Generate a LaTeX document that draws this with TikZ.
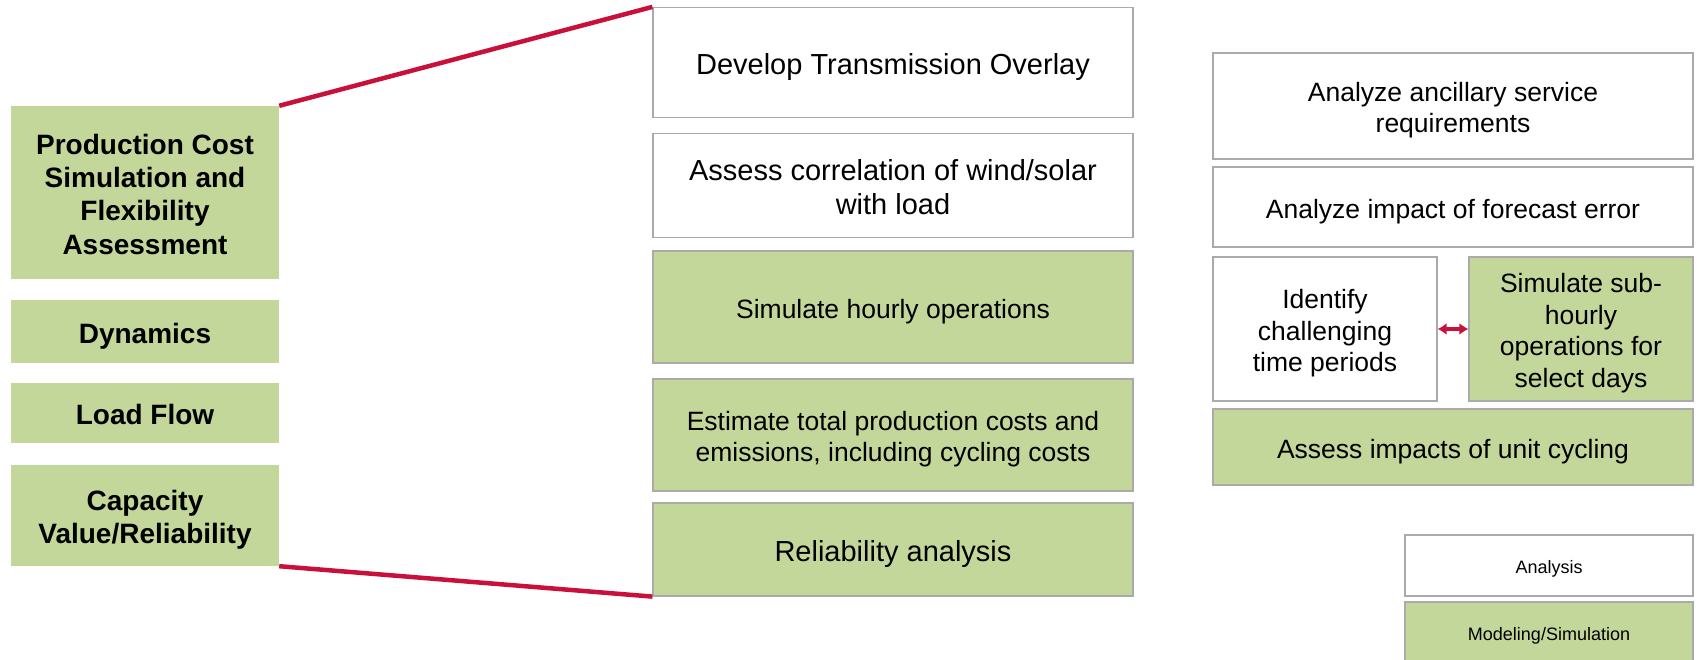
\documentclass[tikz,border=0pt]{standalone}
\usepackage{fontspec}
\setmainfont{Liberation Sans}
\usetikzlibrary{arrows.meta}
\definecolor{modgreen}{RGB}{196,215,155}
\definecolor{boxgray}{RGB}{170,170,170}
\definecolor{linkred}{RGB}{200,16,58}
% struts so that the capitals sit in the middle of each box
\newcommand{\topstrut}{\rule{0pt}{\dimexpr0.94em+3pt\relax}}
\newcommand{\botstrut}{\rule[-0.22em]{0pt}{0.22em}}
\newcommand{\bx}[1]{\topstrut#1\botstrut}
\tikzset{ana node/.style={rectangle,draw=boxgray,line width=1.2pt,fill=white,inner sep=0pt,align=center}}
\tikzset{mod node/.style={ana node,fill=modgreen}}
\tikzset{topic node/.style={rectangle,fill=modgreen,inner sep=0pt,align=center,minimum width=268pt,
font=\fontsize{28}{33.3}\selectfont\bfseries}}
\tikzset{link/.style={linkred,line width=4.5pt}}
\newcommand{\bigtxt}{\fontsize{29}{34}\selectfont}
\newcommand{\midtxt}{\fontsize{26.5}{31.7}\selectfont}

\begin{document}
\begin{tikzpicture}[x=1pt,y=-1pt]
\useasboundingbox (0,0) rectangle (1697,660);
\fill[white] (0,0) rectangle (1697,660);

% study types
\node[topic node,minimum height=173pt] (pcs) at (145,192.5) {\bx{Production Cost\\Simulation and\\Flexibility\\Assessment}};
\node[topic node,minimum height=63pt] (dyn) at (145,331.5) {\bx{Dynamics}};
\node[topic node,minimum height=60pt] (lf) at (145,413) {\bx{Load Flow}};
\node[topic node,minimum height=101pt] (cap) at (145,515.5) {\bx{Capacity\\Value/Reliability}};

% production cost steps
\node[ana node,minimum width=480pt,minimum height=110pt,font=\bigtxt] (dto) at (893,62.5) {\bx{Develop Transmission Overlay}};
\node[ana node,minimum width=480pt,minimum height=104pt,font=\bigtxt] (corr) at (893,185.5) {\bx{Assess correlation of wind/solar\\with load}};
\node[mod node,minimum width=480pt,minimum height=112pt,font=\midtxt] (hourly) at (893,307) {\bx{Simulate hourly operations}};
\node[mod node,minimum width=480pt,minimum height=112pt,font=\midtxt] (cost) at (893,435) {\bx{Estimate total production costs and\\emissions, including cycling costs}};
\node[mod node,minimum width=480pt,minimum height=93pt,font=\bigtxt] (rel) at (893,549.5) {\bx{Reliability analysis}};

% flexibility steps
\node[ana node,minimum width=480pt,minimum height=106pt,font=\midtxt] (anc) at (1453,106) {\bx{Analyze ancillary service\\requirements}};
\node[ana node,minimum width=480pt,minimum height=80pt,font=\midtxt] (fc) at (1453,207) {\bx{Analyze impact of forecast error}};
\node[ana node,minimum width=224pt,minimum height=144pt,font=\midtxt] (ident) at (1325,329) {\bx{Identify\\challenging\\time periods}};
\node[mod node,minimum width=224pt,minimum height=144pt,font=\midtxt] (subh) at (1581,329) {\bx{Simulate sub-\\hourly\\operations for\\select days}};
\node[mod node,minimum width=480pt,minimum height=76pt,font=\midtxt] (cyc) at (1453,447) {\bx{Assess impacts of unit cycling}};

% legend
\node[ana node,minimum width=288pt,minimum height=61pt,font=\fontsize{18}{22}\selectfont] (lega) at (1549,565.5) {\bx{Analysis}};
\node[mod node,minimum width=288pt,minimum height=61pt,font=\fontsize{18}{22}\selectfont] (legm) at (1549,632.5) {\bx{Modeling/Simulation}};

\draw[link] (pcs.north east) -- (dto.north west);
\draw[link] (cap.south east) -- (rel.south west);
\draw[linkred,line width=3.5pt,{Latex[length=9pt,width=12pt]}-{Latex[length=9pt,width=12pt]}] (ident.east) -- (subh.west);
\end{tikzpicture}
\end{document}
